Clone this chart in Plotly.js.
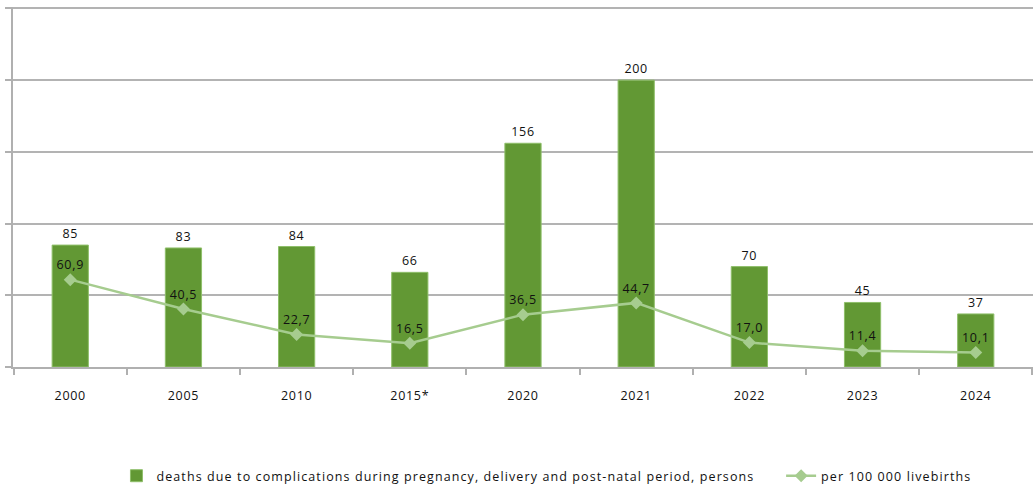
<!DOCTYPE html>
<html>
<head>
<meta charset="utf-8">
<script src="https://cdn.plot.ly/plotly-3.0.1.min.js"></script>
<style>
  html, body { margin: 0; padding: 0; background: #fff; }
  #chart { width: 1033px; height: 488px; }
  svg text { letter-spacing: 0.7px; }
  svg text.legendtext { letter-spacing: 1.1px; }
</style>
</head>
<body>
<div id="chart"></div>
<script>
const years = ["2000", "2005", "2010", "2015*", "2020", "2021", "2022", "2023", "2024"];
const deaths = [85, 83, 84, 66, 156, 200, 70, 45, 37];
const ratePer100k = [60.9, 40.5, 22.7, 16.5, 36.5, 44.7, 17.0, 11.4, 10.1];
const barName = "deaths due to complications during pregnancy, delivery and post-natal period, persons";
const lineName = "per 100 000 livebirths";

const fontFam = "'Open Sans', 'Noto Sans', sans-serif";
const rateText = ratePer100k.map(v => v.toFixed(1).replace('.', ','));
const legendPad = "\u00a0\u00a0\u00a0\u00a0\u00a0";

const traces = [
  {
    type: 'bar',
    x: years,
    y: deaths,
    name: barName + legendPad,
    marker: { color: '#629834', line: { color: '#8fbf6a', width: 1 } },
    text: deaths.map(String),
    textposition: 'outside',
    textfont: { family: fontFam, size: 12.5, color: '#111' },
    cliponaxis: false,
    constraintext: 'none'
  },
  {
    type: 'scatter',
    mode: 'lines+markers+text',
    x: years,
    y: ratePer100k,
    name: lineName,
    line: { color: '#a6cc8f', width: 2.5 },
    marker: { symbol: 'diamond', size: 10, color: '#a6cc8f' },
    text: rateText,
    textposition: 'top center',
    textfont: { family: fontFam, size: 12.5, color: '#111' },
    cliponaxis: false
  }
];

const layout = {
  width: 1033,
  height: 488,
  margin: { l: 13, r: 0, t: 7, b: 121, autoexpand: false },
  paper_bgcolor: '#fff',
  plot_bgcolor: '#fff',
  font: { family: fontFam, size: 12.5, color: '#111' },
  bargap: 0.68,
  showlegend: true,
  legend: {
    orientation: 'h',
    x: 0.523, xanchor: 'center',
    y: -0.303, yanchor: 'middle',
    font: { family: fontFam, size: 12.5, color: '#111' },
    tracegroupgap: 0
  },
  xaxis: {
    type: 'category',
    showgrid: false,
    showline: true,
    linecolor: '#b0b0b0',
    linewidth: 2,
    ticks: 'outside',
    tickson: 'boundaries',
    ticklen: 6,
    tickwidth: 2,
    tickcolor: '#b0b0b0',
    ticklabelstandoff: 16,
    tickfont: { family: fontFam, size: 12.5, color: '#111' },
    zeroline: false
  },
  yaxis: {
    range: [0, 251],
    dtick: 50,
    tick0: 0,
    showgrid: true,
    gridcolor: '#b3b3b3',
    gridwidth: 2,
    showline: true,
    linecolor: '#b0b0b0',
    linewidth: 2,
    ticks: 'outside',
    ticklen: 6,
    tickwidth: 2,
    tickcolor: '#b0b0b0',
    showticklabels: false,
    zeroline: false,
    fixedrange: true
  }
};

Plotly.newPlot('chart', traces, layout, { displayModeBar: false, staticPlot: true });
</script>
</body>
</html>
